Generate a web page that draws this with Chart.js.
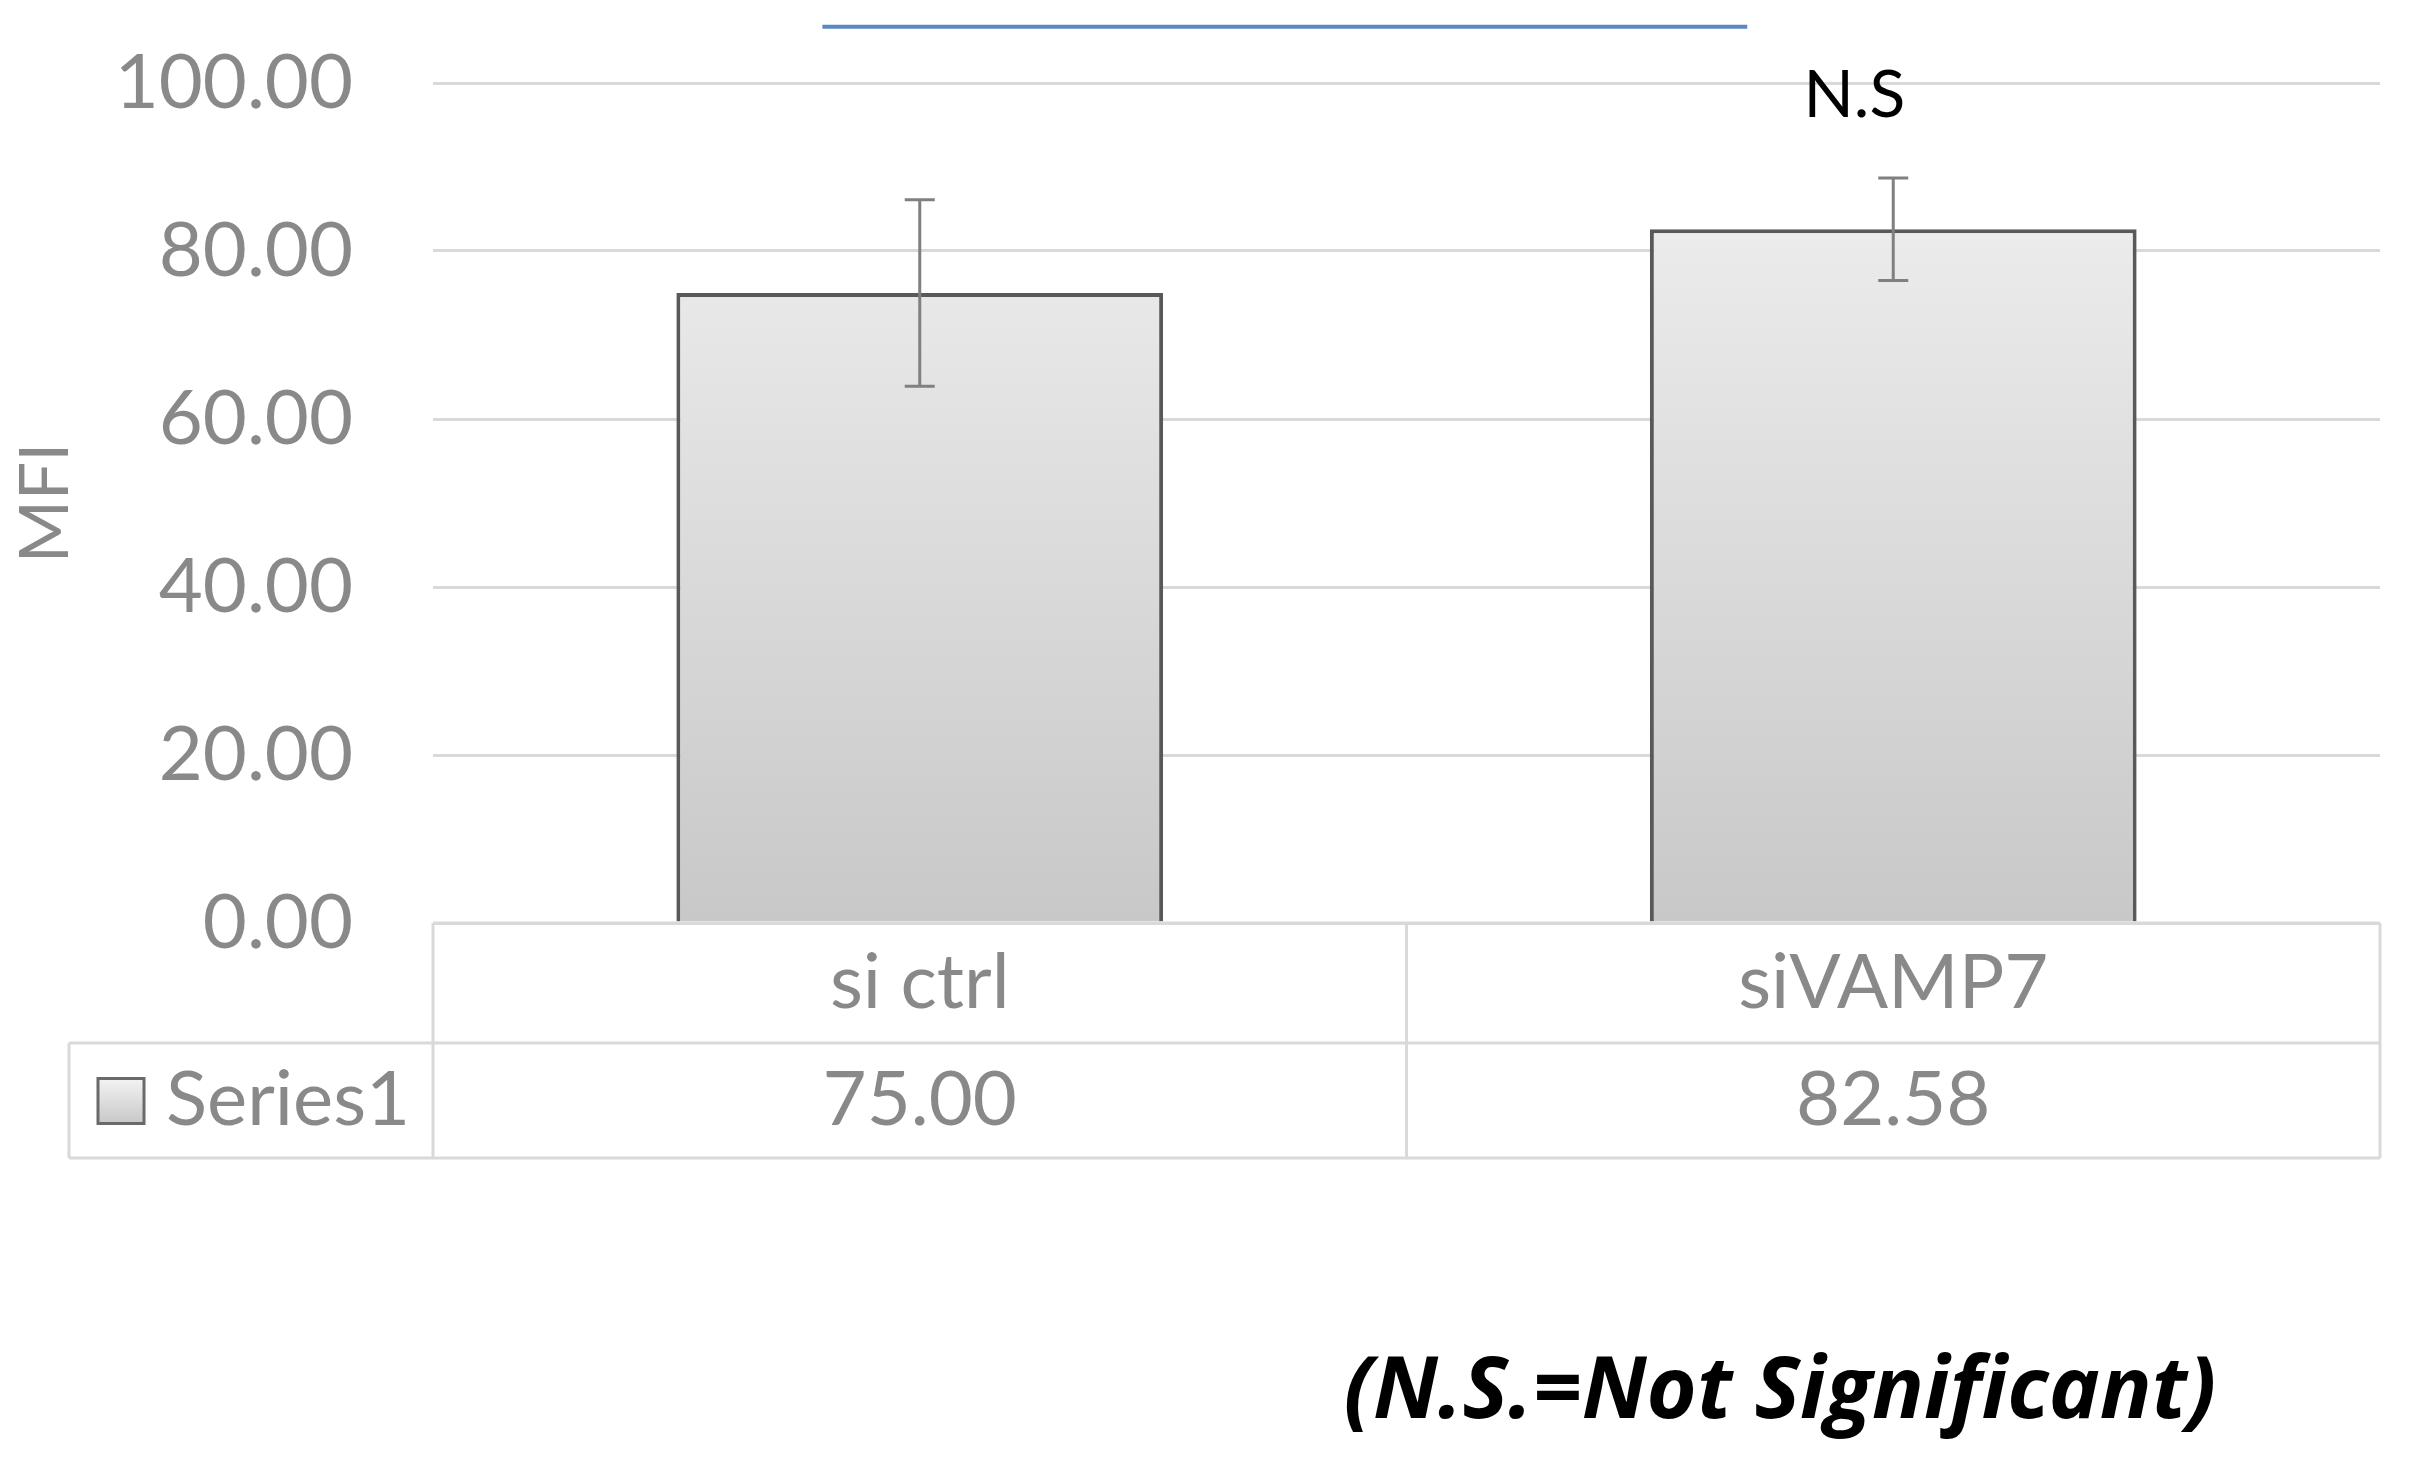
<!DOCTYPE html>
<html>
<head>
<meta charset="utf-8">
<script src="https://cdn.jsdelivr.net/npm/chart.js@4.4.1/dist/chart.umd.min.js"></script>
<style>
html, body { margin: 0; padding: 0; background: #fff; }
#wrap { width: 2413px; height: 1467px; position: relative; }
</style>
</head>
<body>
<div id="wrap"><canvas id="mfiChart"></canvas></div>
<script>
var categories = ['si ctrl', 'siVAMP7'];
var seriesName = 'Series1';
var mfiValues = [75.00, 82.58];
var mfiErrors = [11.1, 6.1];
var yTicks = [0, 20, 40, 60, 80, 100];
var sigLabel = 'N.S';
var sigAt = [0.96, 98.5];        // category position, value
var bracketFrom = -0.1;           // blue line start (category position)
var bracketTo = 0.85;             // blue line end
var bracketValue = 106.7;
var footnote = '(N.S.=Not Significant)';

var grey = '#898989';
var gridGrey = '#d9d9d9';
var font = 'Lato';

function barFill(context) {
    var chart = context.chart;
    var area = chart.chartArea;
    if (!area) return '#dcdcdc';
    var g = chart.ctx.createLinearGradient(0, area.top, 0, area.bottom);
    g.addColorStop(0, '#f3f3f3');
    g.addColorStop(1, '#c8c8c8');
    return g;
}

var errorBars = {
    id: 'errorBars',
    afterDatasetsDraw: function(chart) {
        var ctx = chart.ctx, y = chart.scales.y;
        var meta = chart.getDatasetMeta(0);
        ctx.save();
        ctx.strokeStyle = '#808080';
        ctx.lineWidth = 3;
        meta.data.forEach(function(bar, i) {
            var top = y.getPixelForValue(mfiValues[i] + mfiErrors[i]);
            var bot = y.getPixelForValue(mfiValues[i] - mfiErrors[i]);
            ctx.beginPath();
            ctx.moveTo(bar.x, top); ctx.lineTo(bar.x, bot);
            ctx.moveTo(bar.x - 15, top); ctx.lineTo(bar.x + 15, top);
            ctx.moveTo(bar.x - 15, bot); ctx.lineTo(bar.x + 15, bot);
            ctx.stroke();
        });
        ctx.restore();
    }
};

// significance line + label, data table under the plot, footnote
var extras = {
    id: 'extras',
    afterDraw: function(chart) {
        var ctx = chart.ctx, x = chart.scales.x, y = chart.scales.y;
        var area = chart.chartArea;
        ctx.save();

        // blue bracket line
        ctx.strokeStyle = '#5888bd';
        ctx.lineWidth = 4;
        ctx.beginPath();
        ctx.moveTo(x.getPixelForValue(bracketFrom), y.getPixelForValue(bracketValue));
        ctx.lineTo(x.getPixelForValue(bracketTo), y.getPixelForValue(bracketValue));
        ctx.stroke();

        ctx.fillStyle = '#000';
        ctx.font = '66px ' + font;
        ctx.textAlign = 'center';
        ctx.textBaseline = 'middle';
        ctx.fillText(sigLabel, x.getPixelForValue(sigAt[0]), y.getPixelForValue(sigAt[1]));

        // data table
        var top = area.bottom, mid = top + 120, bot = mid + 115;
        var legLeft = 69;
        ctx.strokeStyle = gridGrey;
        ctx.lineWidth = 3;
        ctx.beginPath();
        ctx.moveTo(area.left, top); ctx.lineTo(area.right, top);
        ctx.moveTo(legLeft, mid); ctx.lineTo(area.right, mid);
        ctx.moveTo(legLeft, bot); ctx.lineTo(area.right, bot);
        ctx.moveTo(legLeft, mid); ctx.lineTo(legLeft, bot);
        for (var i = 0; i <= categories.length; i++) {
            var px = x.getPixelForValue(i - 0.5);
            ctx.moveTo(px, top); ctx.lineTo(px, bot);
        }
        ctx.stroke();

        ctx.fillStyle = grey;
        ctx.font = '76px ' + font;
        categories.forEach(function(c, i) {
            var px = x.getPixelForValue(i);
            ctx.fillText(c, px, (top + mid) / 2);
            ctx.fillText(mfiValues[i].toFixed(2), px, (mid + bot) / 2);
        });

        // legend key
        var kx = 98, ky = (mid + bot) / 2 - 22;
        var kg = ctx.createLinearGradient(0, ky, 0, ky + 45);
        kg.addColorStop(0, '#f3f3f3');
        kg.addColorStop(1, '#c8c8c8');
        ctx.fillStyle = kg;
        ctx.fillRect(kx, ky, 46, 45);
        ctx.strokeStyle = '#6a6a6a';
        ctx.strokeRect(kx, ky, 46, 45);
        ctx.fillStyle = grey;
        ctx.textAlign = 'left';
        ctx.fillText(seriesName, 166, (mid + bot) / 2);

        // footnote
        ctx.fillStyle = '#000';
        ctx.textAlign = 'center';
        ctx.font = 'italic bold 86px "Open Sans"';
        ctx.fillText(footnote, 1780, 1393);
        ctx.restore();
    }
};

var ctx = document.getElementById('mfiChart');
var mfiChart = new Chart(ctx, {
    type: 'bar',
    data: {
        labels: categories,
        datasets: [{
            label: seriesName,
            data: mfiValues,
            backgroundColor: barFill,
            borderColor: '#595959',
            borderWidth: 4,
            categoryPercentage: 0.5,
            barPercentage: 1
        }]
    },
    options: {
        responsive: true,
        maintainAspectRatio: false,
        animation: false,
        devicePixelRatio: 1,
        layout: { padding: { left: 0, right: 33, top: 83, bottom: 544 } },
        plugins: {
            legend: { display: false },
            tooltip: { enabled: false }
        },
        scales: {
            x: { display: false },
            y: {
                min: 0,
                max: 100,
                afterBuildTicks: function(scale) {
                    scale.ticks = yTicks.map(function(v) { return { value: v }; });
                },
                afterFit: function(scale) {
                    scale.width = 433;
                    scale.paddingTop = 0;
                    scale.paddingBottom = 0;
                },
                border: { display: false },
                grid: { color: gridGrey, lineWidth: 3, drawTicks: false },
                ticks: {
                    padding: 80,
                    color: grey,
                    font: { family: font, size: 76 },
                    callback: function(v) { return Number(v).toFixed(2); }
                },
                title: {
                    display: true,
                    text: 'MFI',
                    color: grey,
                    padding: { top: 5, bottom: 0 },
                    font: { family: font, size: 68 }
                }
            }
        }
    },
    plugins: [errorBars, extras]
});
</script>
</body>
</html>
